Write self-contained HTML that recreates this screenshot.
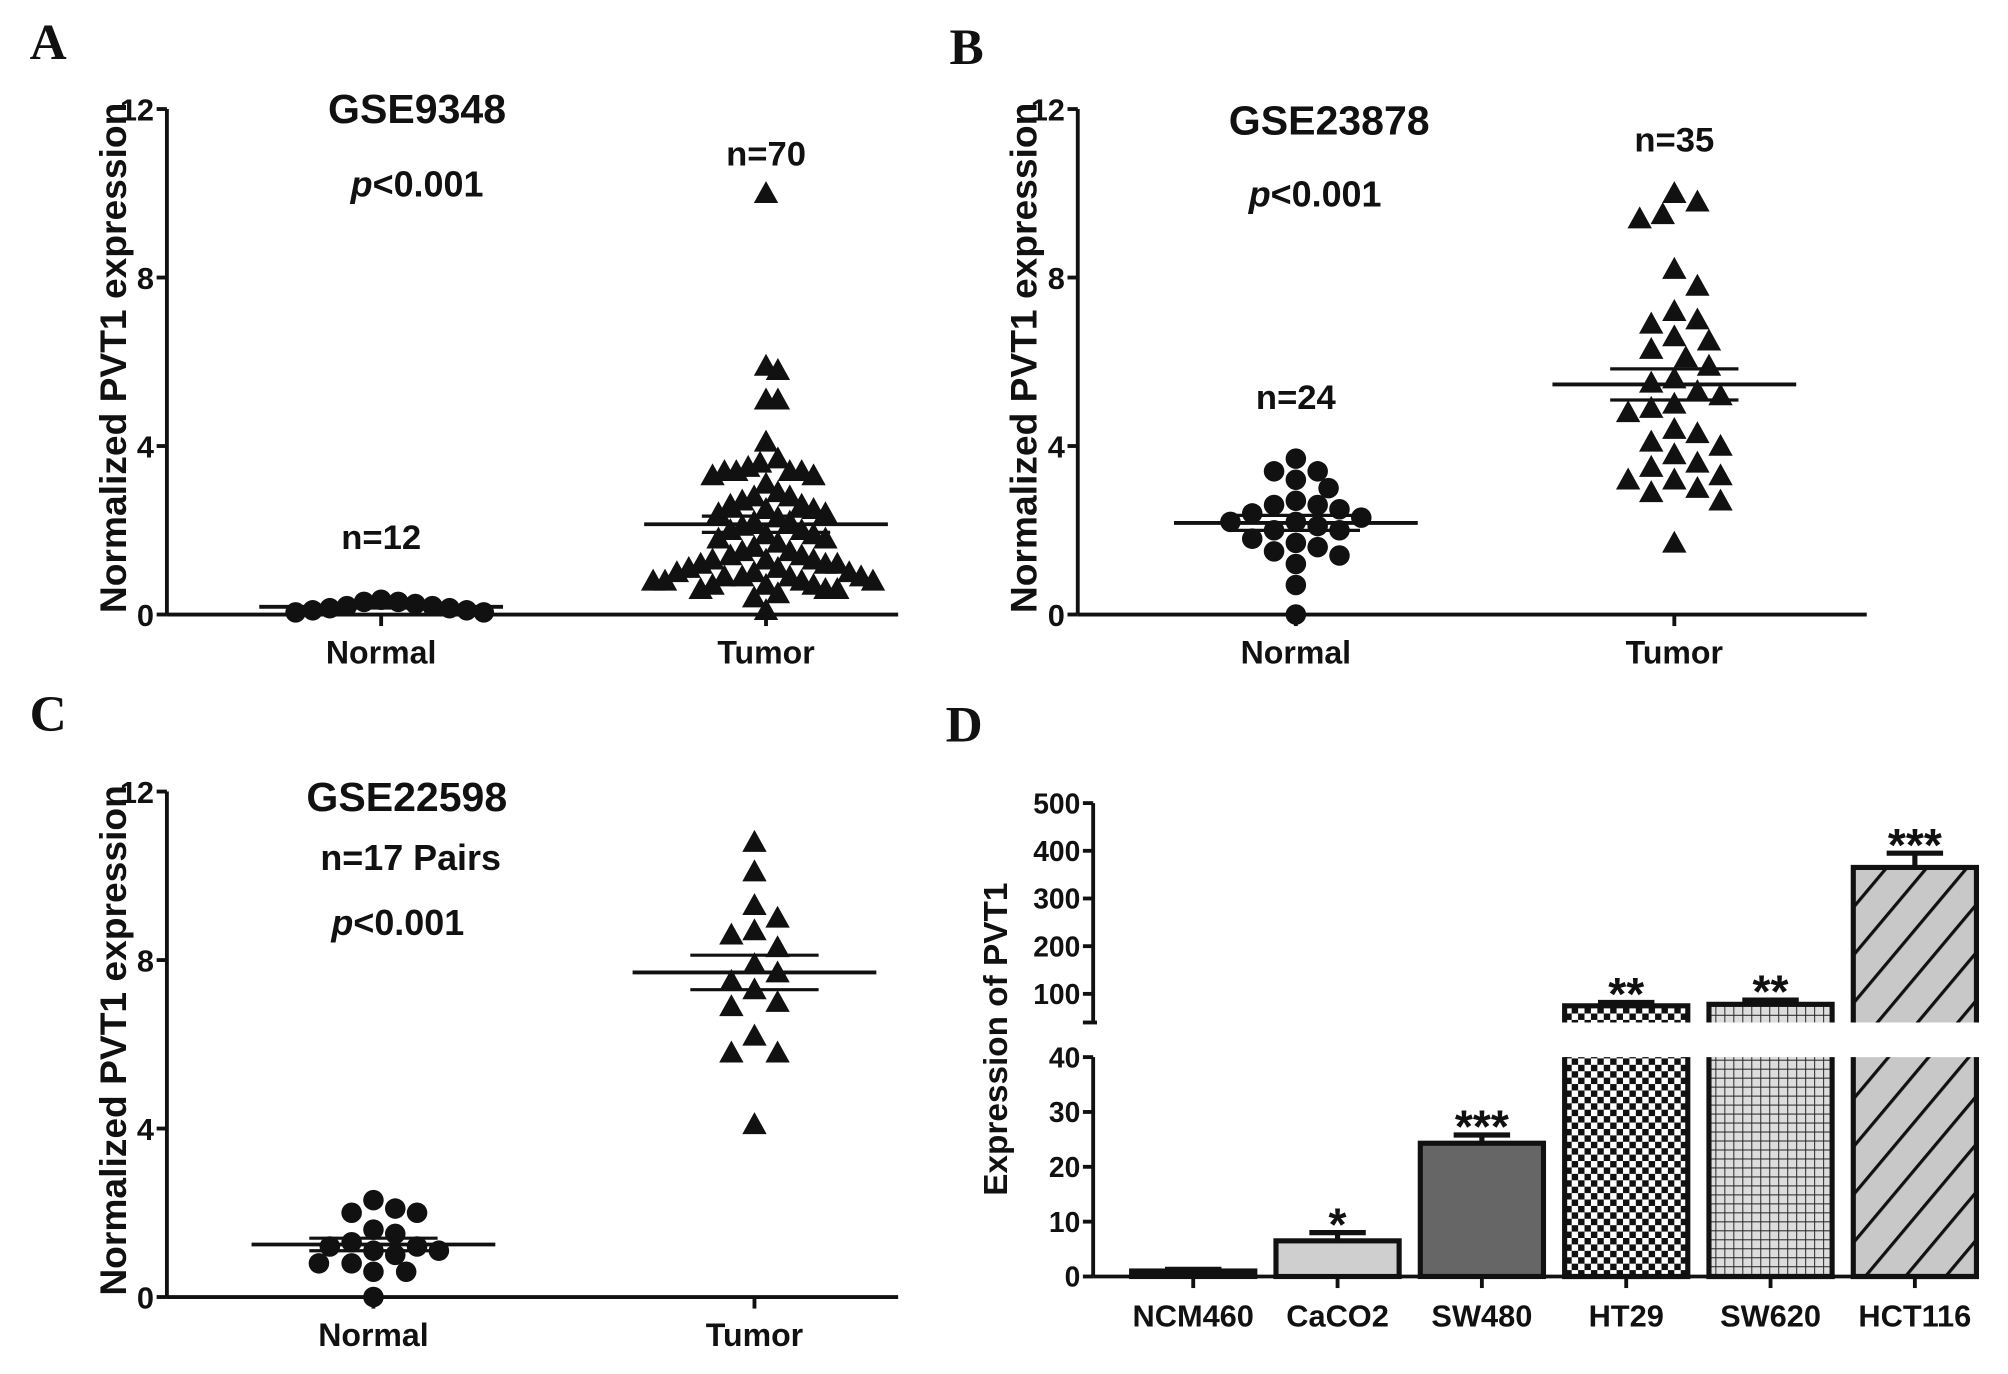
<!DOCTYPE html>
<html><head><meta charset="utf-8">
<style>
html,body{margin:0;padding:0;background:#fff;}
svg{display:block;}
text{font-family:"Liberation Sans",Arial,sans-serif;font-weight:bold;fill:#111;}
.serif{font-family:"Liberation Serif",serif;}
</style></head>
<body>
<svg id="fig" width="2008" height="1374" viewBox="0 0 1565 1071" xmlns="http://www.w3.org/2000/svg">
<defs>
<pattern id="checker" width="10" height="10" patternUnits="userSpaceOnUse">
<rect width="10" height="10" fill="#fff"/><rect width="5" height="5" fill="#111"/><rect x="5" y="5" width="5" height="5" fill="#111"/>
</pattern>
<pattern id="grid" width="7" height="7" patternUnits="userSpaceOnUse">
<rect width="7" height="7" fill="#ddd"/><path d="M0 0H7M0 0V7" stroke="#222" stroke-width="1.5"/>
</pattern>
<pattern id="hatch" width="24" height="24" patternUnits="userSpaceOnUse" patternTransform="rotate(40)">
<rect width="24" height="24" fill="#c8c8c8"/><line x1="0" y1="0" x2="0" y2="24" stroke="#111" stroke-width="5"/>
</pattern>
</defs>
<rect width="1565" height="1071" fill="#fff"/>
<g id="root"></g>
</svg>
<script>
// ---- Data ----
const groupLabels = ["Normal","Tumor"];
const yTicksScatter = [0,4,8,12];
const aNormal = [0.35,0.3,0.3,0.25,0.2,0.2,0.15,0.15,0.1,0.1,0.05,0.05];
const aTumor = [10,5.9,5.8,5.1,5.1,4.1,3.7,3.6,3.5,3.4,3.4,3.4,3.4,3.3,3.3,3.1,2.9,2.8,2.8,2.7,2.6,2.6,2.5,2.5,2.4,2.4,2.3,2.2,2.2,2.1,2.0,2.0,1.9,1.9,1.8,1.8,1.7,1.6,1.5,1.5,1.4,1.4,1.3,1.3,1.3,1.2,1.2,1.2,1.1,1.1,1.0,1.0,1.0,0.9,0.9,0.9,0.9,0.8,0.8,0.8,0.8,0.7,0.7,0.7,0.6,0.6,0.6,0.5,0.4,0.1];
const bNormal = [3.7,3.4,3.4,3.2,3.0,2.7,2.6,2.6,2.5,2.4,2.3,2.2,2.2,2.1,2.0,2.0,1.8,1.7,1.6,1.5,1.4,1.2,0.7,0.0];
const bTumor = [10,9.8,9.5,9.4,8.2,7.8,7.2,7.0,6.9,6.6,6.5,6.3,6.1,5.9,5.6,5.5,5.3,5.2,5.0,4.9,4.8,4.4,4.3,4.1,4.0,3.8,3.6,3.5,3.3,3.2,3.2,3.0,2.9,2.7,1.7];
const cNormal = [2.3,2.1,2.0,2.0,1.6,1.5,1.3,1.2,1.2,1.1,1.1,1.0,0.8,0.8,0.6,0.6,0.0];
const cTumor = [10.8,10.1,9.3,9.0,8.7,8.6,8.3,7.9,7.7,7.5,7.3,7.0,6.9,6.2,5.8,5.8,4.1];
const dCategories = ["NCM460","CaCO2","SW480","HT29","SW620","HCT116"];
const dValues = [1,6.5,24.3,75,78,365];
const dErrors = [0.3,1.5,1.5,7,9,30];
const dStars = ["","*","***","**","**","***"];
const dLowerTicks = [0,10,20,30,40];
const dUpperTicks = [100,200,300,400,500];

const NS="http://www.w3.org/2000/svg";
const root=document.getElementById('root');
function mk(tag,attrs,parent){const e=document.createElementNS(NS,tag);for(const k in attrs)e.setAttribute(k,attrs[k]);(parent||root).appendChild(e);return e;}
function txt(s,x,y,size,parent,extra){const e=mk('text',Object.assign({x:x,y:y,'font-size':size,'text-anchor':'middle'},extra||{}),parent);e.textContent=s;return e;}
function mean(a){return a.reduce((s,v)=>s+v,0)/a.length;}
function sem(a){const m=mean(a);return Math.sqrt(a.reduce((s,v)=>s+(v-m)*(v-m),0)/(a.length-1))/Math.sqrt(a.length);}

function swarm(vals,cx,ys,d,cap){
  const placed=[];
  [...vals].sort((a,b)=>b-a).forEach(v=>{
    const y=ys(v);let k=0,x=cx;
    for(;;){const cands=k===0?[0]:[k*d*0.5,-k*d*0.5];let ok=null;
      for(const o of cands){if(placed.every(p=>Math.hypot(p[0]-(cx+o),p[1]-y)>=d*0.92)){ok=o;break;}}
      if(ok!==null){x=cx+ok;break;}k++;if(k>40)break;}
    placed.push([x,y,v]);
  });
  const mx=Math.max(1,...placed.map(p=>Math.abs(p[0]-cx)));
  if(mx>cap){placed.forEach(p=>{p[0]=cx+(p[0]-cx)*cap/mx;});}
  return placed;
}

function scatterPanel(name,ax,y0,xEnd,cN,cT,nVals,tVals,capN,capT){
  const g=mk('g',{});
  
  
  const ys=v=>y0-v*(394/12);
  const yaxis=mk('line',{x1:ax,y1:ys(12),x2:ax,y2:y0,stroke:'#111','stroke-width':3},g);
  
  
  const xaxis=mk('line',{x1:ax,y1:y0,x2:xEnd,y2:y0,stroke:'#111','stroke-width':3},g);
  
  
  yTicksScatter.forEach(t=>{
    mk('line',{x1:ax-8,y1:ys(t),x2:ax,y2:ys(t),stroke:'#111','stroke-width':3},g);
    const l=txt(String(t),ax-10,ys(t)+9,24,g,{'text-anchor':'end'});
    
    
  });
  [cN,cT].forEach((cx,i)=>{
    mk('line',{x1:cx,y1:y0,x2:cx,y2:y0+9,stroke:'#111','stroke-width':3},g);
    const l=txt(groupLabels[i],cx,y0+38,25,g);
    
    
  });
  const yl=txt('Normalized PVT1 expression',0,0,29,g,{transform:`translate(${ax-32},${y0-200}) rotate(-90)`});
  
  
  swarm(nVals,cN,ys,17,capN).forEach(p=>{
    const c=mk('circle',{cx:p[0],cy:p[1],r:8,fill:'#111'},g);
    
    
  });
  swarm(tVals,cT,ys,18,capT).forEach(p=>{
    const s=9.5;
    const t=mk('polygon',{points:`${p[0]},${p[1]-s} ${p[0]-s},${p[1]+s*0.8} ${p[0]+s},${p[1]+s*0.8}`,fill:'#111'},g);
    
    
  });
  [[nVals,cN],[tVals,cT]].forEach(([vals,cx])=>{
    const m=mean(vals),e=sem(vals);
    const ml=mk('line',{x1:cx-95,y1:ys(m),x2:cx+95,y2:ys(m),stroke:'#111','stroke-width':3},g);
    
    
    [m-e,m+e].forEach(v=>{
      const sl=mk('line',{x1:cx-50,y1:ys(v),x2:cx+50,y2:ys(v),stroke:'#111','stroke-width':2.5},g);
      
      
    });
  });
  return {g,ys};
}

// Panel A
let A=scatterPanel('panel-a',130,479,700,297,597,aNormal,aTumor,80,88);
let t;
t=txt('GSE9348',325,96,32,A.g);
t=txt('',325,153,28,A.g);t.innerHTML='<tspan font-style="italic">p</tspan>&lt;0.001';
t=txt('n=70',597,129,27,A.g);
t=txt('n=12',297,428,27,A.g);

// Panel B
let B=scatterPanel('panel-b',840,479,1455,1010,1305,bNormal,bTumor,75,75);
t=txt('GSE23878',1036,105,32,B.g);
t=txt('',1025,161,28,B.g);t.innerHTML='<tspan font-style="italic">p</tspan>&lt;0.001';
t=txt('n=35',1305,118,27,B.g);
t=txt('n=24',1010,319,27,B.g);

// Panel C
let C=scatterPanel('panel-c',130,1011,700,291,588,cNormal,cTumor,75,60);
t=txt('GSE22598',317,632,32,C.g);
t=txt('n=17 Pairs',320,678,28,C.g);
t=txt('',310,729,28,C.g);t.innerHTML='<tspan font-style="italic">p</tspan>&lt;0.001';

// Panel letters
[['A',23,46],['B',740,50],['C',23,570],['D',737,578]].forEach(([s,x,y])=>{
  const l=txt(s,x,y,40,root,{'text-anchor':'start',class:'serif'});
  
  
});

// Panel D
const gD=mk('g',{});


const dAx=852,dY0=995,brkLo=824,brkHi=797;
function yD(v){return v<=40?dY0-v*((dY0-brkLo)/40):brkHi-(v-40)*((brkHi-626)/460);}
const dX0=872,dStep=112.5,dW=96;
const xD=i=>dX0+dStep*i+dW/2+10;
const fills=['#111','#cfcfcf','#666','url(#checker)','url(#grid)','url(#hatch)'];
dValues.forEach((v,i)=>{
  const cx=xD(i),x=cx-dW/2;
  if(v<=40){
    const r=mk('rect',{x:x,y:yD(v),width:dW,height:dY0-yD(v),fill:fills[i],stroke:'#111','stroke-width':4},gD);
    
    
  } else {
    const r1=mk('rect',{x:x,y:brkLo,width:dW,height:dY0-brkLo,fill:fills[i]},gD);
    
    
    mk('path',{d:`M${x} ${brkLo}V${dY0}H${x+dW}V${brkLo}`,fill:'none',stroke:'#111','stroke-width':4},gD);
    const r2=mk('rect',{x:x,y:yD(v),width:dW,height:brkHi-yD(v),fill:fills[i]},gD);
    
    
    mk('path',{d:`M${x} ${brkHi}V${yD(v)}H${x+dW}V${brkHi}`,fill:'none',stroke:'#111','stroke-width':4},gD);
  }
  const top=yD(v+dErrors[i]);
  const eb=mk('path',{d:`M${cx} ${yD(v)}V${top}M${cx-22} ${top}H${cx+22}`,stroke:'#111','stroke-width':4,fill:'none'},gD);
  
  
  if(dStars[i]){
    const s=txt(dStars[i],cx,top+6,36,gD);
    
    
  }
  mk('line',{x1:cx,y1:dY0,x2:cx,y2:dY0+9,stroke:'#111','stroke-width':3},gD);
  const l=txt(dCategories[i],cx,dY0+39,24,gD);
  
  
});
const dxa=mk('line',{x1:dAx,y1:dY0,x2:1540,y2:dY0,stroke:'#111','stroke-width':3},gD);


const dya1=mk('line',{x1:dAx,y1:dY0,x2:dAx,y2:brkLo,stroke:'#111','stroke-width':3},gD);


const dya2=mk('line',{x1:dAx,y1:brkHi,x2:dAx,y2:626,stroke:'#111','stroke-width':3},gD);


mk('line',{x1:dAx-8,y1:brkHi,x2:dAx+3,y2:brkHi,stroke:'#111','stroke-width':3},gD);
dLowerTicks.concat(dUpperTicks).forEach(tv=>{
  const y=yD(tv);
  mk('line',{x1:dAx-8,y1:y,x2:dAx,y2:y,stroke:'#111','stroke-width':3},gD);
  const l=txt(String(tv),dAx-10,y+8,22,gD,{'text-anchor':'end'});
  
  
});
const dyl=txt('Expression of PVT1',0,0,26,gD,{transform:'translate(785,810) rotate(-90)'});


</script>
</body></html>
